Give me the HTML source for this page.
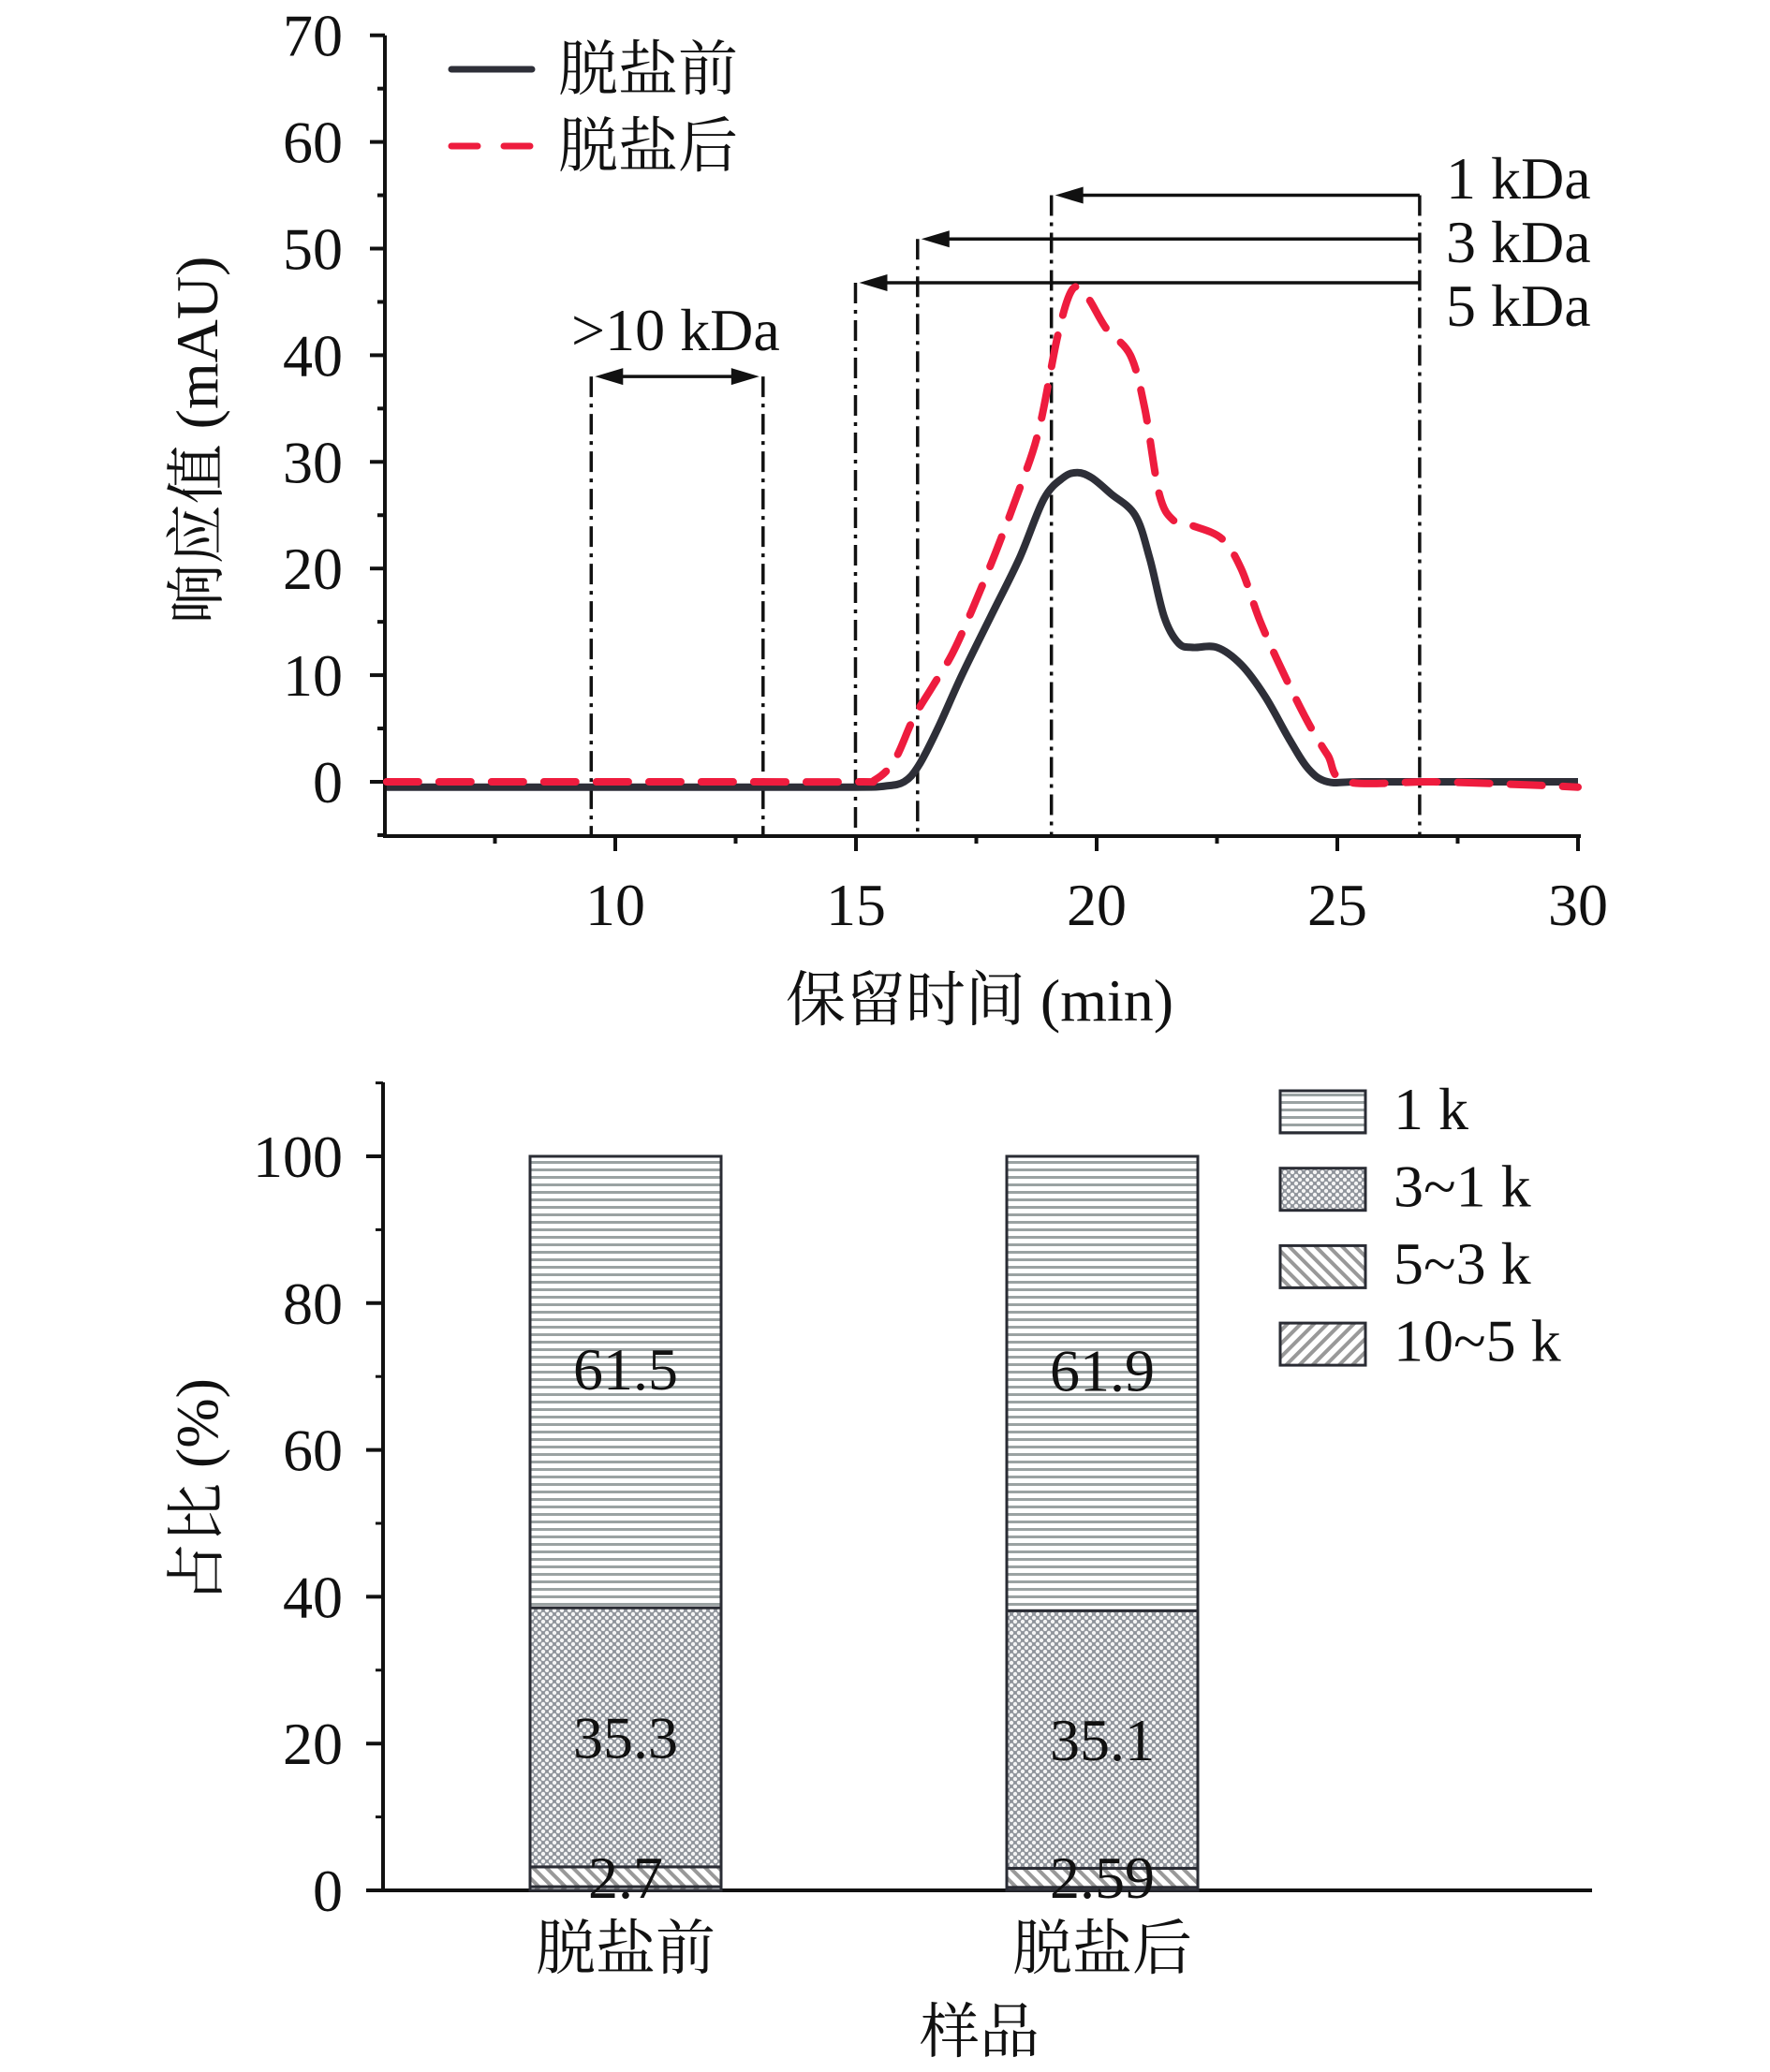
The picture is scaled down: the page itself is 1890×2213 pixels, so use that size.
<!DOCTYPE html>
<html><head><meta charset="utf-8"><style>
html,body{margin:0;padding:0;background:#fff}
svg{display:block}
text{font-family:"Liberation Serif","Noto Serif CJK SC",serif;fill:#111}
</style></head><body>
<svg id="fig" width="1890" height="2213" viewBox="0 0 1890 2213" xmlns="http://www.w3.org/2000/svg">
<defs>
<pattern id="pH" patternUnits="userSpaceOnUse" width="8" height="8"><rect width="8" height="8" fill="#fff"/><rect y="0" width="8" height="3" fill="#9aa2a2"/></pattern>
<pattern id="pX" patternUnits="userSpaceOnUse" width="8" height="8"><rect width="8" height="8" fill="#8e939a"/><circle cx="4" cy="4" r="2.2" fill="#f4f4f4"/><circle cx="0" cy="0" r="2.2" fill="#f4f4f4"/><circle cx="8" cy="0" r="2.2" fill="#f4f4f4"/><circle cx="0" cy="8" r="2.2" fill="#f4f4f4"/><circle cx="8" cy="8" r="2.2" fill="#f4f4f4"/></pattern>
<pattern id="pB" patternUnits="userSpaceOnUse" width="10" height="10" patternTransform="rotate(-45)"><rect width="10" height="10" fill="#fff"/><rect width="4" height="10" fill="#999"/></pattern>
<pattern id="pF" patternUnits="userSpaceOnUse" width="10" height="10" patternTransform="rotate(45)"><rect width="10" height="10" fill="#fff"/><rect width="4" height="10" fill="#999"/></pattern>
</defs>
<g id="top"></g>
<g id="bot"></g>
</svg>
<script>
// ---------- chromatogram data ----------
const blackX = [5.25,8,12,15,15.6,16.0,16.3,16.7,17.2,17.8,18.4,18.9,19.3,19.6,19.9,20.3,20.8,21.1,21.4,21.7,22.0,22.5,23.0,23.5,24.0,24.4,24.8,25.5,28,30];
const blackY = [-0.5,-0.5,-0.5,-0.5,-0.4,0,1.5,5,10,15.5,21,26.5,28.5,29,28.5,27,25,21,15.5,13,12.6,12.6,11,8,4,1.2,0,0,0,0];
const redX = [5.25,8,12,15,15.4,15.8,16.2,16.6,17.0,17.4,17.9,18.4,18.8,19.2,19.5,19.8,20.2,20.7,21.0,21.3,21.6,22.0,22.6,23.0,23.4,23.9,24.4,24.8,25.2,27,29,30];
const redY = [0,0,0,0,0.2,2,6,9,12,16,21.5,27.5,33,42,46.2,45.5,42.5,40,35,27,24.5,24,22.8,20,15,10,5.5,2.5,0,0,-0.3,-0.5];
const xTicks = [10,15,20,25,30];
const yTicks = [0,10,20,30,40,50,60,70];
const cutX = [9.5,13.07,14.99,16.28,19.06,26.71];
const cutTop = [38,38,46.8,50.9,55.0,55.0];
const kdaLabels = ["1 kDa","3 kDa","5 kDa"];
const kdaY = [55.0,50.9,46.8];
const kdaFrom = [19.06,16.28,14.99];

// ---------- bar data ----------
const samples = ["脱盐前","脱盐后"];
const seg105 = [0.5,0.41];
const seg53 = [2.7,2.59];
const seg31 = [35.3,35.1];
const seg1 = [61.5,61.9];
const segLabels = ["1 k","3~1 k","5~3 k","10~5 k"];
const barTicks = [0,20,40,60,80,100];

const NS="http://www.w3.org/2000/svg";
function mk(parent,tag,attrs,txt){const e=document.createElementNS(NS,tag);for(const k in attrs)e.setAttribute(k,attrs[k]);if(txt!==undefined)e.textContent=txt;parent.appendChild(e);return e;}

// ===== top chart =====
const T=document.getElementById('top');
const xs=v=>657+(v-10)*51.4;
const ys=v=>835-v*11.39;
const AX=411, AB=893;
let e;
e=mk(T,'line',{x1:AX,y1:ys(70),x2:AX,y2:AB+2,stroke:'#111','stroke-width':4});


e=mk(T,'line',{x1:AX-2,y1:AB,x2:xs(30)+3,y2:AB,stroke:'#111','stroke-width':4});


yTicks.forEach(v=>{
  e=mk(T,'line',{x1:AX-16,y1:ys(v),x2:AX,y2:ys(v),stroke:'#111','stroke-width':4});
  
  
  e=mk(T,'line',{x1:AX-8,y1:ys(v+5),x2:AX,y2:ys(v+5),stroke:'#111','stroke-width':4});
  
  
  e=mk(T,'text',{x:366,y:ys(v)+22,'text-anchor':'end','font-size':64},String(v));
  
  
});
e=mk(T,'line',{x1:AX-8,y1:ys(-5),x2:AX,y2:ys(-5),stroke:'#111','stroke-width':4});


xTicks.forEach(v=>{
  e=mk(T,'line',{x1:xs(v),y1:AB,x2:xs(v),y2:AB+16,stroke:'#111','stroke-width':4});
  
  
  e=mk(T,'line',{x1:xs(v-2.5),y1:AB,x2:xs(v-2.5),y2:AB+8,stroke:'#111','stroke-width':4});
  
  
  e=mk(T,'text',{x:xs(v),y:988,'text-anchor':'middle','font-size':64},String(v));
  
  
});
e=mk(T,'text',{x:0,y:0,'text-anchor':'middle','font-size':64,transform:'translate(232,470) rotate(-90)'},'响应值 (mAU)');


e=mk(T,'text',{x:1046,y:1090,'text-anchor':'middle','font-size':64},'保留时间 (min)');



function arrowHead(x,y,dir){
  const p=mk(T,'polygon',{points:`${x},${y} ${x+dir*30},${y-9} ${x+dir*30},${y+9}`,fill:'#111'});
  
  
}
cutX.forEach((c,i)=>{
  e=mk(T,'line',{x1:xs(c),y1:ys(cutTop[i]),x2:xs(c),y2:AB,stroke:'#111','stroke-width':3.5,'stroke-dasharray':'22 7 4 7'});
  
  
});
kdaLabels.forEach((l,i)=>{
  e=mk(T,'line',{x1:xs(cutX[5]),y1:ys(kdaY[i]),x2:xs(kdaFrom[i])+10,y2:ys(kdaY[i]),stroke:'#111','stroke-width':3.5});
  
  
  arrowHead(xs(kdaFrom[i])+4,ys(kdaY[i]),1);
  e=mk(T,'text',{x:1544,y:212+i*68,'font-size':64},l);
  
  
});
e=mk(T,'line',{x1:xs(cutX[0])+14,y1:ys(38),x2:xs(cutX[1])-14,y2:ys(38),stroke:'#111','stroke-width':3.5});


arrowHead(xs(cutX[0])+4,ys(38),1);
arrowHead(xs(cutX[1])-4,ys(38),-1);
e=mk(T,'text',{x:610,y:374,'font-size':64},'>10 kDa');



function pathOf(X,Y){
  const P=X.map((x,i)=>[xs(x),ys(Y[i])]);
  let d='M'+P[0][0].toFixed(1)+','+P[0][1].toFixed(1);
  for(let i=0;i<P.length-1;i++){
    const p0=P[Math.max(0,i-1)],p1=P[i],p2=P[i+1],p3=P[Math.min(P.length-1,i+2)];
    const c1=[p1[0]+(p2[0]-p0[0])/6,p1[1]+(p2[1]-p0[1])/6];
    const c2=[p2[0]-(p3[0]-p1[0])/6,p2[1]-(p3[1]-p1[1])/6];
    d+=` C${c1[0].toFixed(1)},${c1[1].toFixed(1)} ${c2[0].toFixed(1)},${c2[1].toFixed(1)} ${p2[0].toFixed(1)},${p2[1].toFixed(1)}`;
  }
  return d;
}
e=mk(T,'path',{d:pathOf(blackX,blackY),fill:'none',stroke:'#2e2f38','stroke-width':8,'stroke-linejoin':'round'});


e=mk(T,'path',{d:pathOf(redX,redY),fill:'none',stroke:'#ee1c3e','stroke-width':8,'stroke-dasharray':'34 22','stroke-linecap':'round'});



// legend
e=mk(T,'line',{x1:482,y1:74,x2:568,y2:74,stroke:'#2e2f38','stroke-width':7,'stroke-linecap':'round'});


e=mk(T,'line',{x1:482,y1:156,x2:568,y2:156,stroke:'#ee1c3e','stroke-width':7,'stroke-dasharray':'28 28','stroke-linecap':'round'});


e=mk(T,'text',{x:596,y:96,'font-size':64},'脱盐前');


e=mk(T,'text',{x:596,y:178,'font-size':64},'脱盐后');



// ===== bottom chart =====
const B=document.getElementById('bot');
const yb=v=>2019-v*7.84;
const BX=409;
e=mk(B,'line',{x1:BX,y1:1156,x2:BX,y2:2021,stroke:'#111','stroke-width':4});


e=mk(B,'line',{x1:BX-2,y1:2019,x2:1700,y2:2019,stroke:'#111','stroke-width':4});


barTicks.forEach(v=>{
  e=mk(B,'line',{x1:BX-18,y1:yb(v),x2:BX,y2:yb(v),stroke:'#111','stroke-width':4});
  
  
  e=mk(B,'line',{x1:BX-8,y1:yb(v+10),x2:BX,y2:yb(v+10),stroke:'#111','stroke-width':3});
  
  
  e=mk(B,'text',{x:366,y:yb(v)+22,'text-anchor':'end','font-size':64},String(v));
  
  
});
e=mk(B,'text',{x:0,y:0,'text-anchor':'middle','font-size':64,transform:'translate(232,1592) rotate(-90)'},'占比 (%)');


e=mk(B,'text',{x:1046,y:2192,'text-anchor':'middle','font-size':64},'样品');



const barCX=[668,1177], BW=204;
samples.forEach((s,i)=>{
  const segs=[[seg105[i],'url(#pF)','segment-10-5k'],[seg53[i],'url(#pB)','segment-5-3k'],[seg31[i],'url(#pX)','segment-3-1k'],[seg1[i],'url(#pH)','segment-1k']];
  let base=0;
  segs.forEach(sg=>{
    e=mk(B,'rect',{x:barCX[i]-BW/2,y:yb(base+sg[0]),width:BW,height:yb(base)-yb(base+sg[0]),fill:sg[1],stroke:'#2a2c34','stroke-width':3});
    
    
    base+=sg[0];
  });
  const labs=[[seg1[i],seg105[i]+seg53[i]+seg31[i]+seg1[i]/2+1.8],[seg31[i],seg105[i]+seg53[i]+seg31[i]/2],[seg53[i],1.8]];
  labs.forEach(l=>{
    e=mk(B,'text',{x:barCX[i],y:yb(l[1])+22,'text-anchor':'middle','font-size':64},String(l[0]));
    
    
  });
  e=mk(B,'text',{x:barCX[i],y:2103,'text-anchor':'middle','font-size':64},s);
  
  
});
const legFill=['url(#pH)','url(#pX)','url(#pB)','url(#pF)'];
segLabels.forEach((l,i)=>{
  e=mk(B,'rect',{x:1367,y:1165+i*82.7,width:91,height:45,fill:legFill[i],stroke:'#2a2c34','stroke-width':3});
  
  
  e=mk(B,'text',{x:1488,y:1206+i*82.5,'font-size':64},l);
  
  
});
</script>
</body></html>
